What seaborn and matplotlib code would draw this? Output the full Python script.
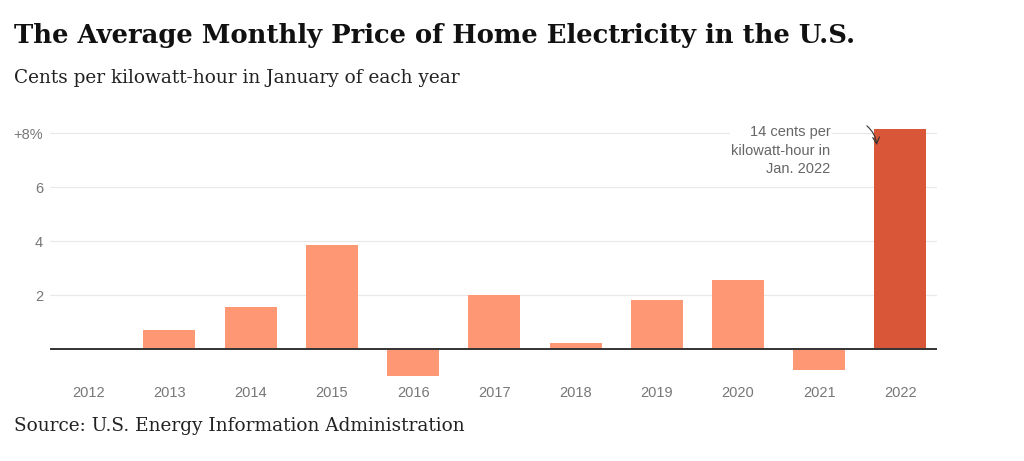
import matplotlib
matplotlib.use("Agg")
import matplotlib.pyplot as plt
import seaborn as sns
import pandas as pd

years = ["2012", "2013", "2014", "2015", "2016", "2017", "2018", "2019", "2020", "2021", "2022"]
pct_change = [0.0, 0.70, 1.57, 3.86, -0.99, 2.01, 0.22, 1.80, 2.56, -0.78, 8.15]
highlight = ["no", "no", "no", "no", "no", "no", "no", "no", "no", "no", "yes"]
ytick_vals = [2, 4, 6, 8]
ytick_labels = ["2", "4", "6", "+8%"]

title = "The Average Monthly Price of Home Electricity in the U.S."
subtitle = "Cents per kilowatt-hour in January of each year"
source = "Source: U.S. Energy Information Administration"
note = "14 cents per\nkilowatt-hour in\nJan. 2022"

df = pd.DataFrame({"year": years, "pct": pct_change, "hl": highlight})

sns.set_theme(style="white")
plt.rcParams["font.family"] = ["Liberation Sans", "DejaVu Sans"]

fig = plt.figure(figsize=(10.24, 4.61), dpi=100)
ax = fig.add_axes([50 / 1024, 0.1727, 887 / 1024, 0.5563])

sns.barplot(data=df, x="year", y="pct", hue="hl",
            palette={"no": "#FE9874", "yes": "#D95639"},
            width=0.64, dodge=False, legend=False, ax=ax,
            saturation=1, linewidth=0)

ax.set_xlim(-0.47, 10.45)
ax.set_ylim(-1.2, 8.3)
ax.set_yticks(ytick_vals)
ax.set_yticklabels(ytick_labels)
ax.yaxis.grid(True, color="#e8e8e8", linewidth=0.9)
ax.set_axisbelow(True)
ax.axhline(0, color="#333333", linewidth=1.4, zorder=5)
for s in ax.spines.values():
    s.set_visible(False)
ax.set_xlabel("")
ax.set_ylabel("")
ax.tick_params(axis="both", length=0, labelsize=10.5, labelcolor="#777777")
ax.tick_params(axis="y", pad=5)
ax.tick_params(axis="x", pad=3)

ax.text(9.14, 8.28, note, ha="right", va="top", fontsize=10.5,
        color="#666666", linespacing=1.38,
        bbox=dict(facecolor="white", edgecolor="none", pad=1))
ax.annotate("", xy=(9.71, 7.45), xytext=(9.56, 8.33),
            arrowprops=dict(arrowstyle="->", color="#333333", lw=0.8,
                            connectionstyle="arc3,rad=-0.25"))

fig.text(14 / 1024, 1 - 35 / 461, title, ha="left", va="center",
         fontsize=18.6, fontweight="bold", family="DejaVu Serif", color="#111111")
fig.text(14 / 1024, 1 - 78 / 461, subtitle, ha="left", va="center",
         fontsize=13.3, family="DejaVu Serif", color="#222222")
fig.text(14 / 1024, 1 - 426 / 461, source, ha="left", va="center",
         fontsize=13.3, family="DejaVu Serif", color="#222222")

fig.savefig("out.png", dpi=100)
